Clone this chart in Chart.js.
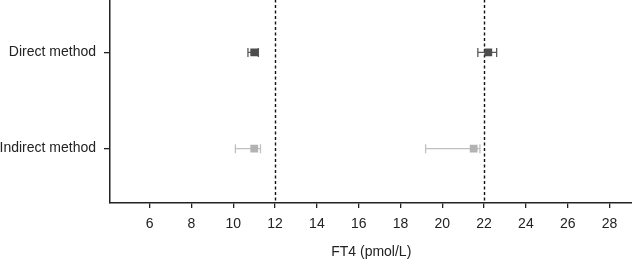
<!DOCTYPE html>
<html>
<head>
<meta charset="utf-8">
<script src="https://cdn.jsdelivr.net/npm/chart.js@4.4.1/dist/chart.umd.min.js"></script>
<style>
  html, body { margin: 0; padding: 0; background: #fff; overflow: hidden; }
  #frame { position: relative; width: 632px; height: 261px; overflow: hidden; }
  /* el lienzo sobresale un poco para que el eje toque el borde superior y derecho */
  #wrap { position: absolute; left: 0; top: -6px; width: 638px; height: 267px; }
</style>
</head>
<body>
<div id="frame"><div id="wrap"><canvas id="chart"></canvas></div></div>
<script>
// Datos
const methods     = ['Direct method', 'Indirect method'];
const methodPos   = [2, 1];                 // posición en el eje Y
const lowMean     = [11.0, 11.0];
const lowMin      = [10.7, 10.1];
const lowMax      = [11.2, 11.3];
const highMean    = [22.2, 21.5];
const highMin     = [21.7, 19.2];
const highMax     = [22.6, 21.8];
const refLimits   = [12, 22];
const xTicks      = [6, 8, 10, 12, 14, 16, 18, 20, 22, 24, 26, 28];

const markerColors = ['#4d4d4d', '#b3b3b3'];
const barColors    = ['#5a5a5a', '#c0c0c0'];
const axisColor    = '#222';
const font = { family: 'Liberation Sans, Arial, sans-serif', size: 14 };

const datasets = methods.map((m, i) => ({
  label: m,
  data: [
    { x: lowMean[i],  y: methodPos[i], lo: lowMin[i],  hi: lowMax[i] },
    { x: highMean[i], y: methodPos[i], lo: highMin[i], hi: highMax[i] }
  ],
  pointStyle: 'rect',
  pointRadius: 5.5,
  backgroundColor: markerColors[i],
  borderColor: markerColors[i],
  borderWidth: 0,
  errColor: barColors[i]
}));

// --- Plugin: líneas de referencia + barras de error ---
const extras = {
  id: 'extras',
  beforeDatasetsDraw(chart) {
    const { ctx, chartArea, scales: { x, y } } = chart;
    ctx.save();
    // líneas discontinuas
    ctx.strokeStyle = '#111';
    ctx.lineWidth = 1.4;
    ctx.setLineDash([3, 2.5]);
    refLimits.forEach(v => {
      const px = Math.round(x.getPixelForValue(v)) + 0.5;
      ctx.beginPath();
      ctx.moveTo(px, chartArea.top);
      ctx.lineTo(px, chartArea.bottom);
      ctx.stroke();
    });
    ctx.setLineDash([]);
    // barras de error
    chart.data.datasets.forEach(ds => {
      ctx.strokeStyle = ds.errColor;
      ctx.lineWidth = 1.3;
      ds.data.forEach(p => {
        const py = y.getPixelForValue(p.y);
        const x1 = x.getPixelForValue(p.lo);
        const x2 = x.getPixelForValue(p.hi);
        ctx.beginPath();
        ctx.moveTo(x1, py); ctx.lineTo(x2, py);
        ctx.moveTo(x1, py - 4.5); ctx.lineTo(x1, py + 4.5);
        ctx.moveTo(x2, py - 4.5); ctx.lineTo(x2, py + 4.5);
        ctx.stroke();
      });
    });
    ctx.restore();
  }
};

new Chart(document.getElementById('chart'), {
  type: 'scatter',
  data: { datasets },
  plugins: [extras],
  options: {
    responsive: true,
    maintainAspectRatio: false,
    animation: false,
    layout: { padding: 0 },
    plugins: { legend: { display: false }, tooltip: { enabled: false } },
    scales: {
      x: {
        type: 'linear',
        min: 4.1,
        max: 29.1,
        afterBuildTicks: s => { s.ticks = xTicks.map(v => ({ value: v })); },
        afterFit: s => { s.height = 58; s.paddingLeft = 0; s.paddingRight = 0; },
        grid: { drawOnChartArea: false, drawTicks: true, tickLength: 5, color: axisColor, lineWidth: 1.3 },
        border: { display: true, color: axisColor, width: 1.5 },
        ticks: { color: '#222', font, padding: 8, maxRotation: 0, autoSkip: false },
        title: { display: true, text: 'FT4 (pmol/L)', color: '#222', font, padding: { top: 9, bottom: 0 } }
      },
      y: {
        type: 'linear',
        min: 0.435,
        max: 2.55,
        afterBuildTicks: s => { s.ticks = methodPos.map(v => ({ value: v })); },
        afterFit: s => { s.width = 110; s.paddingTop = 0; s.paddingBottom = 0; },
        grid: { drawOnChartArea: false, drawTicks: true, tickLength: 6, color: axisColor, lineWidth: 1.3 },
        border: { display: true, color: axisColor, width: 1.5 },
        ticks: {
          color: '#222', font, padding: 8,
          callback: v => methods[methodPos.indexOf(v)]
        }
      }
    }
  }
});
</script>
</body>
</html>
